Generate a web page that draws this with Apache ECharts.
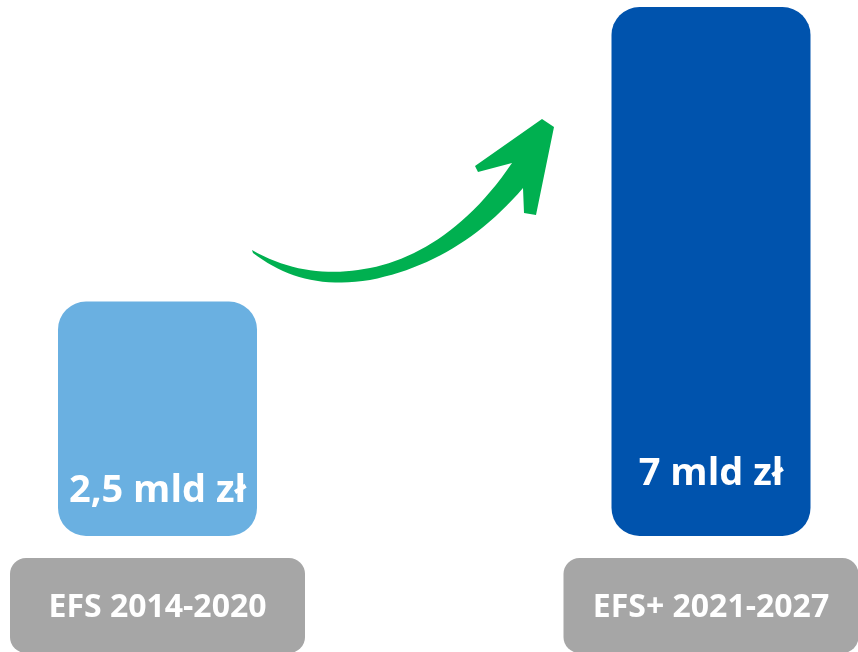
<!DOCTYPE html>
<html>
<head>
<meta charset="utf-8">
<script src="https://cdn.jsdelivr.net/npm/echarts@6/dist/echarts.min.js"></script>
<style>
html,body{margin:0;padding:0;background:#fff;}
#chart{width:858px;height:652px;}
</style>
</head>
<body>
<div id="chart"></div>
<script>
var categories = ['EFS 2014-2020', 'EFS+ 2021-2027'];
var values = [2.5, 7];
var unit = ' mld zł';
var barColors = ['#6AB0E1', '#0053AD'];

var chart = echarts.init(document.getElementById('chart'), null, {renderer: 'canvas'});
var FONT = '"Open Sans", "DejaVu Sans", sans-serif';
var labelDistances = [26, 43];

// decorative arrow outline (annotation, not a data mark)
function cubic(p0, p1, p2, p3, n) {
  var pts = [];
  for (var i = 1; i <= n; i++) {
    var t = i / n, u = 1 - t;
    pts.push([
      u*u*u*p0[0] + 3*u*u*t*p1[0] + 3*u*t*t*p2[0] + t*t*t*p3[0],
      u*u*u*p0[1] + 3*u*u*t*p1[1] + 3*u*t*t*p2[1] + t*t*t*p3[1]
    ]);
  }
  return pts;
}
var arrowPts = [[252, 250]]
  .concat(cubic([252,250],[290,272],[330,276],[370,268], 20))
  .concat(cubic([370,268],[420,258],[470,225],[512,163], 24))
  .concat([[478,172],[475,166],[542,119],[554,127],[536,215],[524,213],[523,188]])
  .concat(cubic([523,188],[480,238],[430,268],[370,280], 24))
  .concat(cubic([370,280],[320,288],[285,277],[253,253], 20));

chart.setOption({
  animation: false,
  backgroundColor: '#ffffff',
  grid: {left: 157.5, right: 147, top: 7, bottom: 116, containLabel: false, outerBoundsMode: 'none'},
  xAxis: {
    type: 'category',
    data: categories,
    boundaryGap: false,
    axisLine: {show: false},
    axisTick: {show: false},
    splitLine: {show: false},
    axisLabel: {
      show: true,
      interval: 0,
      margin: 22,
      color: '#ffffff',
      fontFamily: FONT,
      fontWeight: 'bold',
      fontSize: 32,
      lineHeight: 38,
      width: 291,
      align: 'center',
      backgroundColor: '#A6A6A6',
      borderRadius: 16,
      padding: [31, 2, 26, 2]
    }
  },
  yAxis: {
    type: 'value',
    show: false,
    min: -1.082,
    max: 7,
    startValue: -1.082,
    splitLine: {show: false}
  },
  series: [{
    type: 'bar',
    clip: false,
    barWidth: 199,
    data: values.map(function (v, i) {
      return {
        value: v,
        itemStyle: {color: barColors[i]},
        label: {distance: labelDistances[i]}
      };
    }),
    itemStyle: {borderRadius: 28},
    label: {
      show: true,
      position: 'insideBottom',
      color: '#ffffff',
      fontFamily: FONT,
      fontWeight: 'bold',
      fontSize: 38,
      formatter: function (p) {
        return String(p.value).replace('.', ',') + unit;
      }
    }
  }],
  graphic: [{
    type: 'polygon',
    z: 10,
    shape: {points: arrowPts},
    style: {fill: '#00B050'}
  }]
});
</script>
</body>
</html>
